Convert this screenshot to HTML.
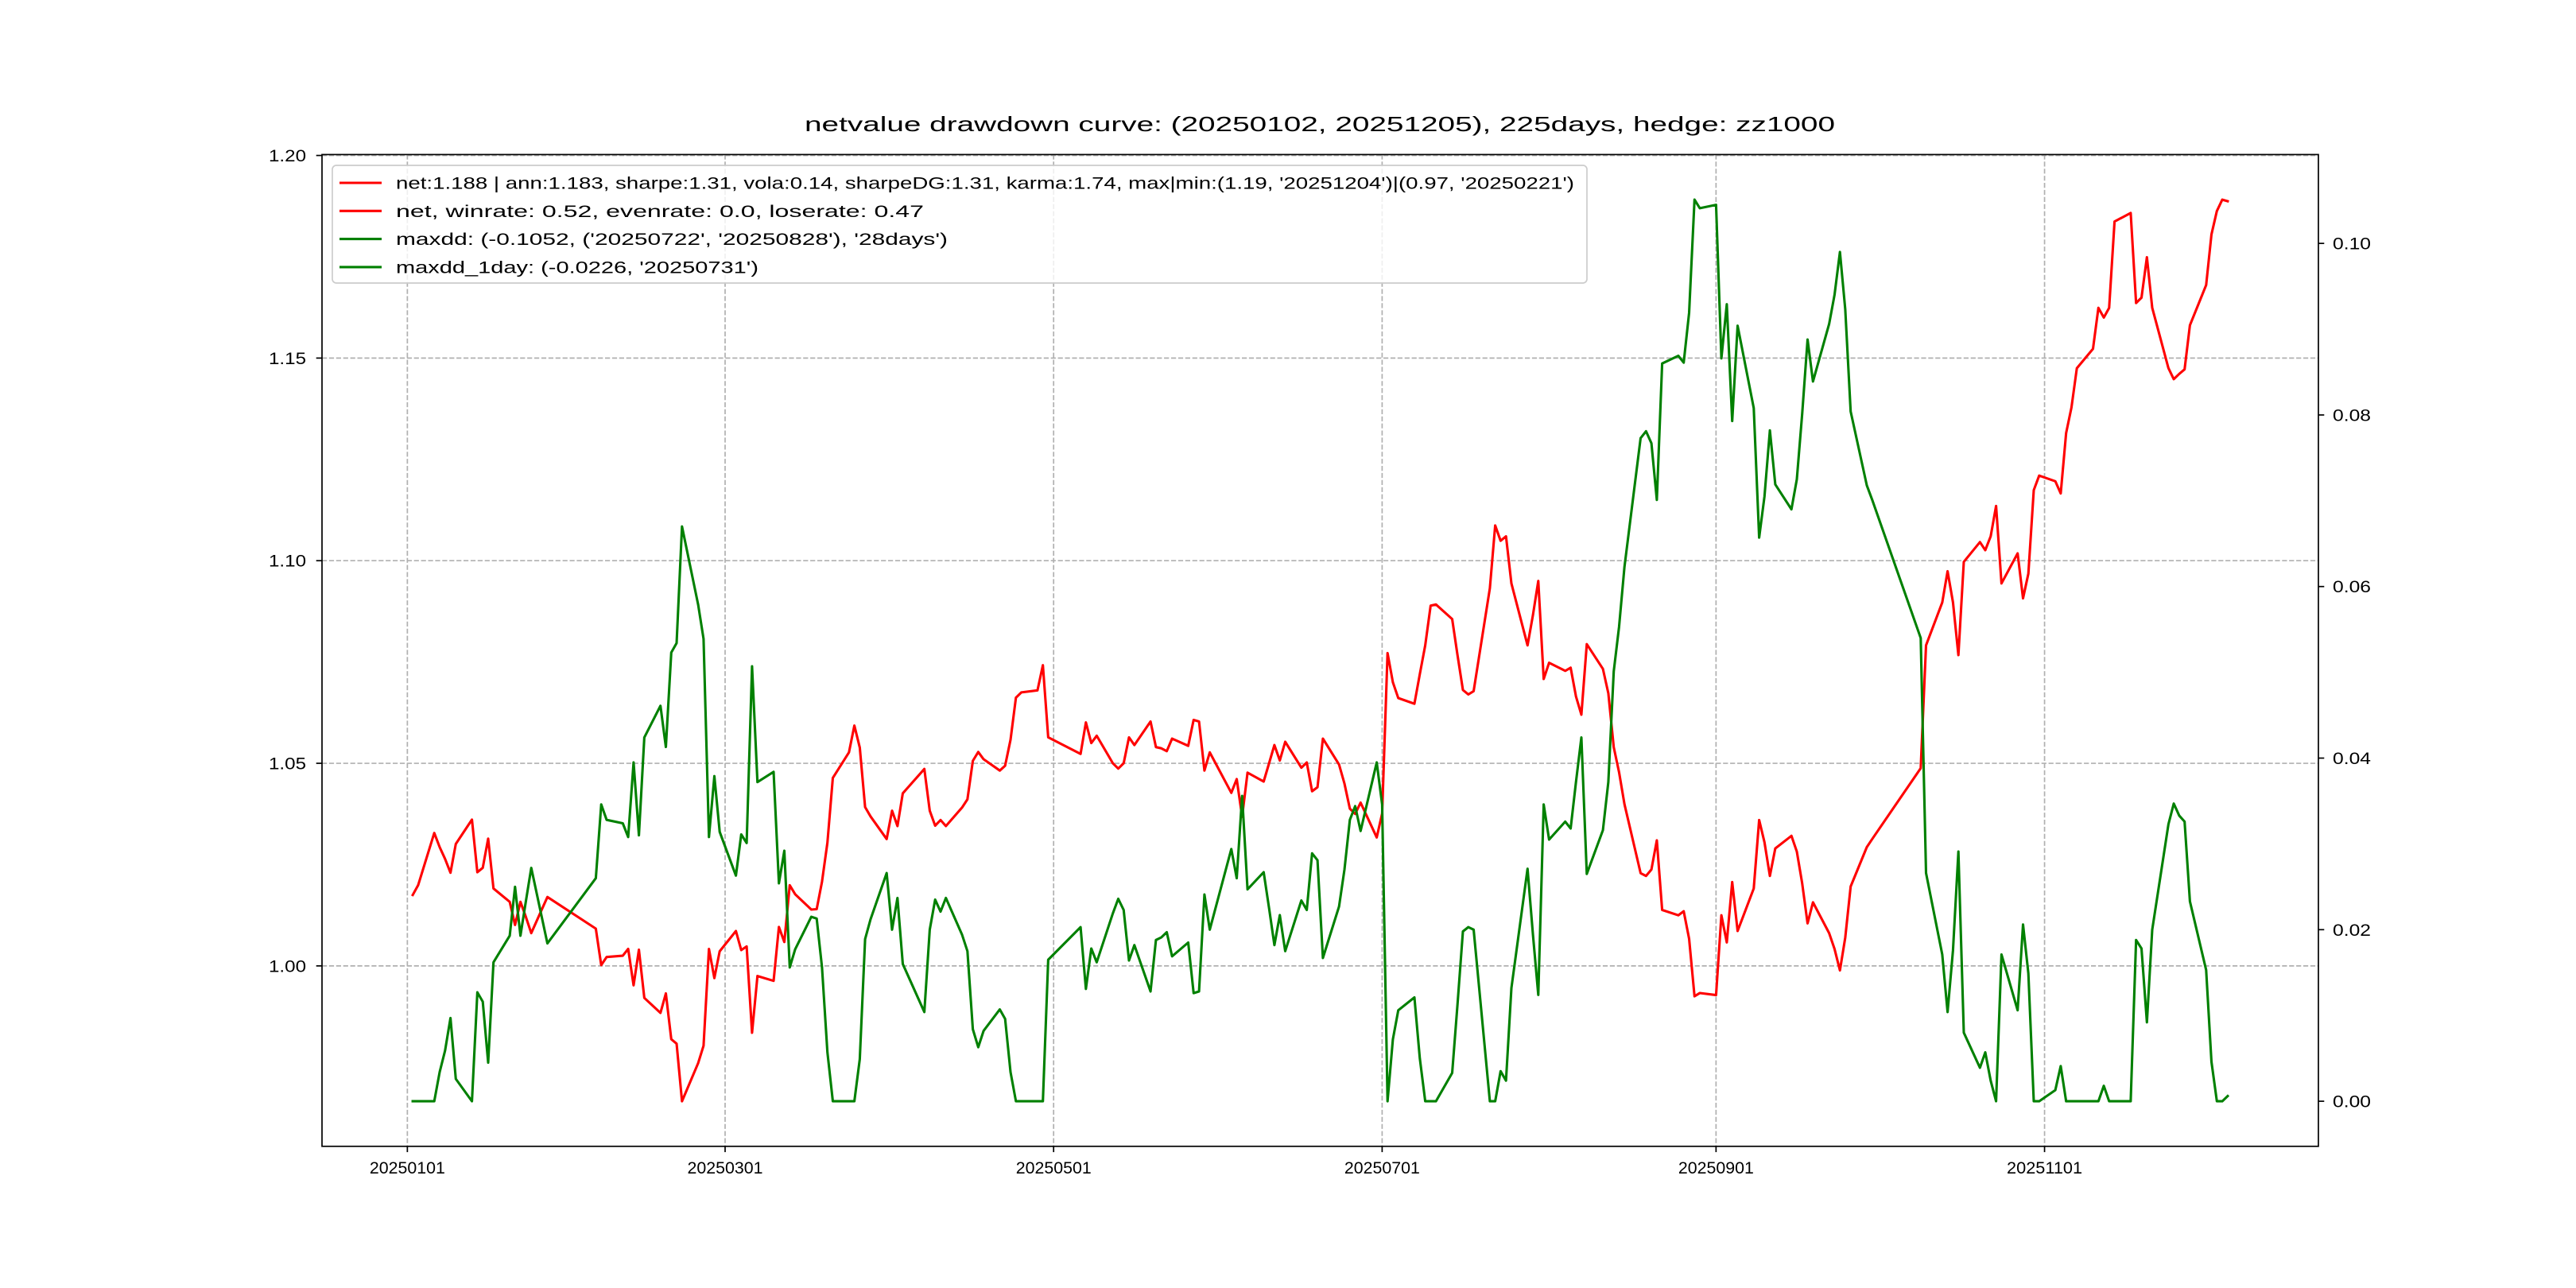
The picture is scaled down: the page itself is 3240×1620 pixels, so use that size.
<!DOCTYPE html>
<html><head><meta charset="utf-8"><title>netvalue drawdown curve</title>
<style>html,body{margin:0;padding:0;background:#fff;}svg{display:block;}</style></head>
<body>
<svg id="chart" xmlns="http://www.w3.org/2000/svg" width="3240" height="1620" viewBox="0 0 3240 1620" font-family="'Liberation Sans', 'WenQuanYi Zen Hei', sans-serif">
<rect width="3240" height="1620" fill="#fff"/>
<text x="1660" y="165" text-anchor="middle" font-size="26" textLength="1296" lengthAdjust="spacingAndGlyphs">netvalue drawdown curve: (20250102, 20251205), 225days, hedge: zz1000</text>
<g id="grid"></g>
<g id="lines"></g>
<g id="axes"></g>
<g id="legend"></g>
</svg>
<script>
const dates = ("20250102 20250103 20250106 20250107 20250108 20250109 20250110 20250113 20250114 20250115 20250116 20250117 20250120 20250121 20250122 20250123 20250124 20250127 " +
"20250205 20250206 20250207 20250210 20250211 20250212 20250213 20250214 20250217 20250218 20250219 20250220 20250221 20250224 20250225 20250226 20250227 20250228 " +
"20250303 20250304 20250305 20250306 20250307 20250310 20250311 20250312 20250313 20250314 20250317 20250318 20250319 20250320 20250321 20250324 20250325 20250326 20250327 20250328 20250331 " +
"20250401 20250402 20250403 20250407 20250408 20250409 20250410 20250411 20250414 20250415 20250416 20250417 20250418 20250421 20250422 20250423 20250424 20250425 20250428 20250429 20250430 " +
"20250506 20250507 20250508 20250509 20250512 20250513 20250514 20250515 20250516 20250519 20250520 20250521 20250522 20250523 20250526 20250527 20250528 20250529 20250530 " +
"20250603 20250604 20250605 20250606 20250609 20250610 20250611 20250612 20250613 20250616 20250617 20250618 20250619 20250620 20250623 20250624 20250625 20250626 20250627 20250630 " +
"20250701 20250702 20250703 20250704 20250707 20250708 20250709 20250710 20250711 20250714 20250715 20250716 20250717 20250718 20250721 20250722 20250723 20250724 20250725 20250728 20250729 20250730 20250731 " +
"20250801 20250804 20250805 20250806 20250807 20250808 20250811 20250812 20250813 20250814 20250815 20250818 20250819 20250820 20250821 20250822 20250825 20250826 20250827 20250828 20250829 " +
"20250901 20250902 20250903 20250904 20250905 20250908 20250909 20250910 20250911 20250912 20250915 20250916 20250917 20250918 20250919 20250922 20250923 20250924 20250925 20250926 20250929 20250930 " +
"20251009 20251010 20251013 20251014 20251015 20251016 20251017 20251020 20251021 20251022 20251023 20251024 20251027 20251028 20251029 20251030 20251031 " +
"20251103 20251104 20251105 20251106 20251107 20251110 20251111 20251112 20251113 20251114 20251117 20251118 20251119 20251120 20251121 20251124 20251125 20251126 20251127 20251128 " +
"20251201 20251202 20251203 20251204 20251205").split(" ");

const netValues = [
1.0175,1.0199,1.0328,1.0293,1.0264,1.0230,1.0301,1.0361,1.0231,1.0242,1.0314,1.0191,1.0158,1.0101,1.0158,1.0121,1.0081,1.0170,
1.0092,1.0002,1.0022,1.0025,1.0042,0.9952,1.0040,0.9921,0.9884,0.9932,0.9819,0.9808,0.9666,0.9760,0.9803,1.0042,0.9970,1.0036,
1.0086,1.0039,1.0048,0.9835,0.9975,0.9963,1.0096,1.0059,1.0199,1.0177,1.0139,1.0140,1.0208,1.0304,1.0464,1.0527,1.0593,1.0539,1.0392,1.0369,1.0313,
1.0383,1.0345,1.0426,1.0486,1.0383,1.0346,1.0360,1.0345,1.0391,1.0411,1.0506,1.0528,1.0510,1.0482,1.0494,1.0558,1.0662,1.0675,1.0680,1.0742,1.0564,
1.0523,1.0601,1.0550,1.0568,1.0500,1.0487,1.0500,1.0564,1.0545,1.0603,1.0540,1.0537,1.0530,1.0561,1.0543,1.0607,1.0603,1.0482,1.0527,
1.0427,1.0461,1.0368,1.0477,1.0455,1.0500,1.0545,1.0507,1.0553,1.0489,1.0502,1.0431,1.0441,1.0561,1.0497,1.0450,1.0388,1.0375,1.0403,1.0317,
1.0376,1.0772,1.0700,1.0661,1.0647,1.0720,1.0791,1.0889,1.0892,1.0856,1.0767,1.0681,1.0670,1.0678,1.0932,1.1087,1.1049,1.1060,1.0944,1.0791,1.0866,1.0950,1.0708,
1.0748,1.0728,1.0736,1.0665,1.0620,1.0794,1.0733,1.0673,1.0540,1.0478,1.0399,1.0229,1.0222,1.0238,1.0310,1.0138,1.0125,1.0135,1.0067,0.9925,0.9933,
0.9928,1.0125,1.0058,1.0207,1.0086,1.0191,1.0360,1.0305,1.0222,1.0290,1.0321,1.0282,1.0204,1.0105,1.0157,1.0081,1.0042,0.9989,1.0070,1.0196,1.0293,1.0313,
1.0488,1.0791,1.0897,1.0974,1.0897,1.0767,1.0997,1.1046,1.1026,1.1060,1.1135,1.0944,1.1018,1.0907,1.0968,1.1174,1.1210,
1.1196,1.1166,1.1315,1.1378,1.1475,1.1523,1.1624,1.1600,1.1624,1.1837,1.1858,1.1636,1.1649,1.1749,1.1624,1.1475,1.1448,1.1461,1.1472,1.1581,
1.1680,1.1805,1.1863,1.1891,1.1887];

const drawdownValues = [
0,0,0,0.0034,0.0059,0.0097,0.0026,0,0.0127,0.0116,0.0045,0.0162,0.0193,0.0250,0.0193,0.0233,0.0272,0.0184,
0.0260,0.0346,0.0328,0.0324,0.0308,0.0395,0.0310,0.0424,0.0461,0.0413,0.0523,0.0534,0.0670,0.0579,0.0539,0.0308,0.0379,0.0314,
0.0263,0.0311,0.0301,0.0507,0.0372,0.0384,0.0254,0.0292,0.0156,0.0177,0.0215,0.0213,0.0156,0.0057,0,0,0,0.0049,0.0189,0.0212,0.0266,
0.0200,0.0237,0.0160,0.0104,0.0200,0.0235,0.0221,0.0237,0.0194,0.0175,0.0084,0.0063,0.0082,0.0107,0.0096,0.0034,0,0,0,0,0.0165,
0.0203,0.0131,0.0178,0.0162,0.0219,0.0236,0.0223,0.0164,0.0182,0.0128,0.0188,0.0191,0.0197,0.0169,0.0185,0.0126,0.0128,0.0241,0.0200,
0.0294,0.0260,0.0356,0.0247,0.0267,0.0225,0.0182,0.0217,0.0175,0.0234,0.0223,0.0289,0.0281,0.0167,0.0227,0.0270,0.0328,0.0344,0.0315,0.0395,
0.0346,0,0.0072,0.0106,0.0121,0.0050,0,0,0,0.0033,0.0113,0.0198,0.0203,0.0200,0,0,0.0035,0.0024,0.0132,0.0271,0.0194,0.0124,0.0346,
0.0305,0.0326,0.0318,0.0372,0.0424,0.0265,0.0316,0.0372,0.0501,0.0553,0.0623,0.0773,0.0781,0.0767,0.0701,0.0860,0.0869,0.0861,0.0919,0.1051,0.1041,
0.1045,0.0866,0.0929,0.0793,0.0904,0.0808,0.0657,0.0705,0.0782,0.0719,0.0690,0.0725,0.0801,0.0888,0.0839,0.0906,0.0940,0.0990,0.0923,0.0804,0.0718,0.0701,
0.0540,0.0266,0.0171,0.0104,0.0176,0.0291,0.0080,0.0039,0.0057,0.0024,0,0.0171,0.0106,0.0206,0.0149,0,0,
0.0013,0.0041,0,0,0,0,0,0.0018,0,0,0,0.0188,0.0178,0.0092,0.0200,0.0323,0.0347,0.0333,0.0326,0.0233,
0.0153,0.0046,0,0,0.0006];

const xTickLabels = ["20250101","20250301","20250501","20250701","20250901","20251101"];
const leftTickValues = [1.00,1.05,1.10,1.15,1.20];
const leftTickLabels = ["1.00","1.05","1.10","1.15","1.20"];
const rightTickValues = [0.00,0.02,0.04,0.06,0.08,0.10];
const rightTickLabels = ["0.00","0.02","0.04","0.06","0.08","0.10"];
const legendLabels = [
 "net:1.188 | ann:1.183, sharpe:1.31, vola:0.14, sharpeDG:1.31, karma:1.74, max|min:(1.19, '20251204')|(0.97, '20250221')",
 "net, winrate: 0.52, evenrate: 0.0, loserate: 0.47",
 "maxdd: (-0.1052, ('20250722', '20250828'), '28days')",
 "maxdd_1day: (-0.0226, '20250731')"];
const legendColors = ["#ff0000","#ff0000","#008000","#008000"];

const NS = "http://www.w3.org/2000/svg";
const L = 405, R = 2916, T = 194.4, B = 1441.8;
function dayNum(s){ return Date.UTC(+s.slice(0,4), +s.slice(4,6)-1, +s.slice(6,8)) / 86400000; }
const dnums = dates.map(dayNum);
const dMin = Math.min(...dnums), dMax = Math.max(...dnums), dPad = (dMax-dMin)*0.05;
const xLo = dMin-dPad, xHi = dMax+dPad;
function xScale(d){ return L + (d - xLo)/(xHi - xLo)*(R - L); }
const nMin = Math.min(...netValues), nMax = Math.max(...netValues), nPad = (nMax-nMin)*0.05;
function yLeft(v){ return B - (v - (nMin-nPad))/((nMax+nPad)-(nMin-nPad))*(B - T); }
const ddMin = Math.min(...drawdownValues), ddMax = Math.max(...drawdownValues), ddPad = (ddMax-ddMin)*0.05;
function yRight(v){ return B - (v - (ddMin-ddPad))/((ddMax+ddPad)-(ddMin-ddPad))*(B - T); }

function mk(tag, attrs, parent){
  const e = document.createElementNS(NS, tag);
  for (const k in attrs) e.setAttribute(k, attrs[k]);
  parent.appendChild(e);
  return e;
}
const grid = document.getElementById('grid');
const lines = document.getElementById('lines');
const axes = document.getElementById('axes');
const legend = document.getElementById('legend');

// grid + x ticks
xTickLabels.forEach(function(lbl){
  const x = xScale(dayNum(lbl));
  const g = mk('line', {x1:x, x2:x, y1:T, y2:B, stroke:'#b0b0b0', 'stroke-width':1.7, 'stroke-dasharray':'6.2,2.7'}, grid);
  
  
  const t = mk('line', {x1:x, x2:x, y1:B, y2:B+7.3, stroke:'#000', 'stroke-width':1.7}, axes);
  
  
  const tx = mk('text', {x:x, y:1476, 'text-anchor':'middle', 'font-size':21, textLength:95, lengthAdjust:'spacingAndGlyphs'}, axes);
  tx.textContent = lbl;
  
  
});
leftTickValues.forEach(function(v, i){
  const y = yLeft(v);
  const g = mk('line', {x1:L, x2:R, y1:y, y2:y, stroke:'#b0b0b0', 'stroke-width':1.7, 'stroke-dasharray':'6.2,2.7'}, grid);
  
  
  const t = mk('line', {x1:L-7.3, x2:L, y1:y, y2:y, stroke:'#000', 'stroke-width':1.7}, axes);
  
  
  const tx = mk('text', {x:385, y:y+7.5, 'text-anchor':'end', 'font-size':21, textLength:47, lengthAdjust:'spacingAndGlyphs'}, axes);
  tx.textContent = leftTickLabels[i];
  
  
});
rightTickValues.forEach(function(v, i){
  const y = yRight(v);
  const t = mk('line', {x1:R, x2:R+7.3, y1:y, y2:y, stroke:'#000', 'stroke-width':1.7}, axes);
  
  
  const tx = mk('text', {x:2934, y:y+7.5, 'font-size':21, textLength:48, lengthAdjust:'spacingAndGlyphs'}, axes);
  tx.textContent = rightTickLabels[i];
  
  
});
const frame = mk('rect', {x:L, y:T, width:R-L, height:B-T, fill:'none', stroke:'#000', 'stroke-width':1.7}, axes);



// series
const netPts = netValues.map(function(v, i){ return xScale(dnums[i]).toFixed(1)+','+yLeft(v).toFixed(1); }).join(' ');
const netLine = mk('polyline', {points:netPts, fill:'none', stroke:'#ff0000', 'stroke-width':3.1, 'stroke-linejoin':'round', 'stroke-linecap':'square'}, lines);


const ddPts = drawdownValues.map(function(v, i){ return xScale(dnums[i]).toFixed(1)+','+yRight(v).toFixed(1); }).join(' ');
const ddLine = mk('polyline', {points:ddPts, fill:'none', stroke:'#008000', 'stroke-width':3.1, 'stroke-linejoin':'round', 'stroke-linecap':'square'}, lines);



// legend
const box = mk('rect', {x:418, y:208, width:1578, height:148, rx:5, fill:'#fff', 'fill-opacity':0.8, stroke:'#cccccc', 'stroke-width':1.7}, legend);


const legendLens = [1482, 664, 694, 456];
legendLabels.forEach(function(lbl, i){
  const y = 230 + i*35.3;
  const ln = mk('line', {x1:427, x2:480, y1:y, y2:y, stroke:legendColors[i], 'stroke-width':3.1}, legend);
  
  
  const tx = mk('text', {x:498, y:y+7.5, 'font-size':21, textLength:legendLens[i], lengthAdjust:'spacingAndGlyphs'}, legend);
  tx.textContent = lbl;
  
  
});
</script>
</body></html>
